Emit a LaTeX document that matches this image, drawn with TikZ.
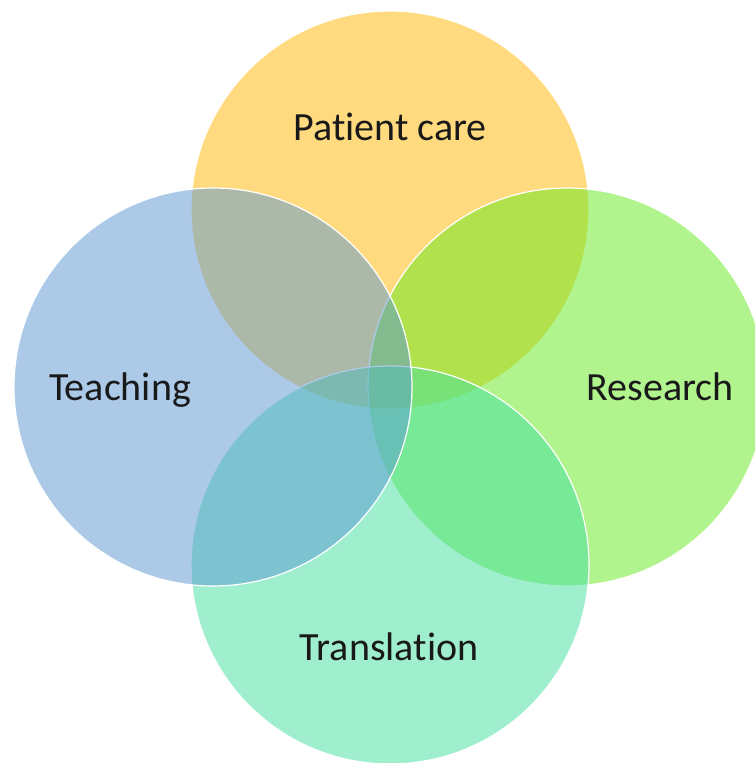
\documentclass[tikz,border=0pt]{standalone}
\usepackage{fontspec}
\setmainfont[Ligatures={NoCommon}]{Carlito}
\definecolor{cYellow}{RGB}{255,183,0}
\definecolor{cGreen}{RGB}{101,235,31}
\definecolor{cTeal}{RGB}{65,225,161}
\definecolor{cBlue}{RGB}{91,151,209}
\begin{document}
\begin{tikzpicture}[x=1pt,y=-1pt,
  venn/.style={circle, minimum size=398pt, inner sep=0pt, fill=#1, fill opacity=0.5, draw=white, draw opacity=1, line width=1.2pt},
  lbl/.style={font=\fontsize{40}{48}\selectfont, text=black!90, anchor=base, inner sep=0pt}]
\clip (0,0) rectangle (755,763);
\fill[white] (0,0) rectangle (755,763);
\node[venn=cYellow] (top) at (390,210) {};
\node[venn=cGreen] (right) at (567,387) {};
\node[venn=cTeal] (bottom) at (390,565) {};
\node[venn=cBlue] (left) at (213,387) {};
\node[lbl] (tpc) at (390,140) {Patient care};
\node[lbl] (tr) at (660,400) {Research};
\node[lbl] (tt) at (389,660) {Translation};
\node[lbl] (tte) at (120,400) {Teaching};
\end{tikzpicture}
\end{document}
